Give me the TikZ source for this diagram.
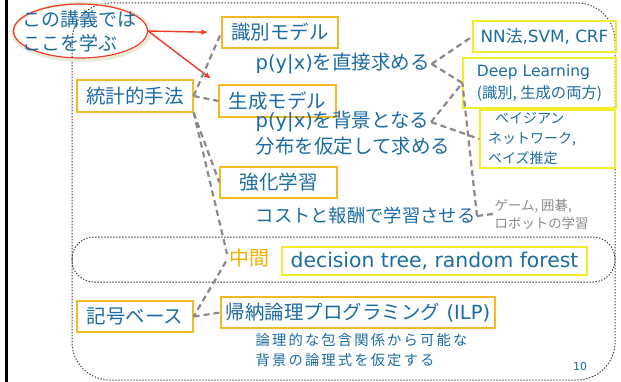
\documentclass[tikz,border=0pt]{standalone}
\usepackage{fontspec}
\setmainfont{Noto Sans CJK JP}
\newfontfamily\lat{DejaVu Sans}
\usetikzlibrary{shapes.geometric,arrows.meta}
\definecolor{tblue}{HTML}{1C6CA2}
\definecolor{obox}{HTML}{F6B921}
\definecolor{ybox}{HTML}{F2EC2A}
\definecolor{dgray}{HTML}{8A8A8A}
\definecolor{dotc}{HTML}{3C3C30}
\definecolor{redc}{HTML}{EE3B22}
\definecolor{otxt}{HTML}{F5B000}
\definecolor{glow}{HTML}{E6ECD8}
\newcommand\fsz[2]{\fontsize{#1}{#2}\selectfont}
\begin{document}
\begin{tikzpicture}[x=1pt,y=-1pt,
  obx/.style={draw=obox, line width=1.3pt, text=tblue, inner sep=0pt, font=\fsz{19.5}{24}},
  ybx/.style={draw=ybox, line width=1.3pt, text=tblue, inner sep=0pt},
  txt/.style={text=tblue, inner sep=1.5pt, anchor=west, font=\fsz{19.5}{24}},
  conn/.style={draw=dgray, line width=2.2pt, dash pattern=on 6pt off 4pt},
  dotbox/.style={draw=dotc, line width=1pt, dash pattern=on 1.3pt off 1.7pt},
  redarr/.style={draw=redc, line width=1.4pt, -{Triangle[length=6pt,width=5pt]}}]
\useasboundingbox (0,0) rectangle (621,382);
\fill[white] (0,0) rectangle (621,382);
\draw[black, line width=3pt] (6.5,0) -- (6.5,382);
\draw[dotbox, rounded corners=38pt] (72,3) rectangle (615,380);
\draw[dotbox, rounded corners=22pt] (72,237) rectangle (615,282);

% ellipse
\node[ellipse, draw=glow, line width=3pt, minimum width=137pt, minimum height=57pt, inner sep=0pt] (ellglow) at (81.5,32) {};
\node[ellipse, draw=redc, line width=1.2pt, minimum width=134pt, minimum height=54pt, inner sep=0pt] (ell) at (80.5,31) {};
\node[text=tblue, align=left, font=\fsz{19}{24}, inner sep=0pt] (elltxt) at (79,31) {この講義では\\ここを学ぶ};

% boxes
\node[obx, minimum width=116pt, minimum height=32pt] (toukei) at (135,96) {統計的手法};
\node[obx, minimum width=116pt, minimum height=31pt] (shiki) at (280,32.5) {識別モデル};
\node[obx, minimum width=117pt, minimum height=32pt] (sei) at (277.5,101) {生成モデル};
\node[obx, minimum width=117pt, minimum height=31pt] (kyo) at (278.5,182.5) {強化学習};
\node[obx, minimum width=116pt, minimum height=31pt] (kigo) at (135,316.5) {記号ベース};
\node[obx, minimum width=274pt, minimum height=31pt] (ilp) at (358,312.5) {帰納論理プログラミング{\lat\ (ILP)}};
\node[ybx, minimum width=305pt, minimum height=28pt, font=\lat\fsz{20.3}{24}] (dt) at (434.5,261) {decision tree, random forest};
\node[ybx, minimum width=143pt, minimum height=31pt, font=\fsz{16.8}{20}] (nn) at (544.5,36.5) {{\lat NN}法{\lat ,SVM, CRF}};
\node[ybx, minimum width=153pt, minimum height=50pt, align=left, font=\fsz{15.3}{22}] (dl) at (539.5,83) {{\lat\fsz{15.5}{22}Deep Learning}\\(識別, 生成の両方)};
\node[ybx, minimum width=135pt, minimum height=58pt, text width=119pt, inner xsep=8pt, align=left, font=\fsz{14}{20}] (bay) at (547.5,139) {\hspace*{7pt}ベイジアン\\ネットワーク,\\ベイズ推定};

% texts
\node[txt] (t1) at (254,64) {{\lat p(y|x)}を直接求める};
\node[txt] (t2a) at (254,122) {{\lat p(y|x)}を背景となる};
\node[txt] (t2b) at (254,146) {分布を仮定して求める};
\node[txt, font=\fsz{18.3}{24}] (t3) at (254,216) {コストと報酬で学習させる};
\node[txt, text=otxt, font=\fsz{20}{24}] (chukan) at (228,258) {中間};
\node[txt, align=left, font=\fsz{14.3}{20}\addfontfeature{LetterSpace=15}] (t4) at (254,350) {論理的な包含関係から可能な\\背景の論理式を仮定する};
\node[txt, text=dgray, align=left, font=\fsz{13.4}{18}] (game) at (493,214) {ゲーム, 囲碁,\\ロボットの学習};
\node[text=tblue, inner sep=0pt, font=\lat\fsz{11}{12}] (pg) at (580,366) {10};

% red arrows
\draw[redarr, shorten >=14pt] (ell.east) -- (shiki.west);
\draw[redarr, shorten >=10pt] (ell.east) -- (sei.north west);

% connectors
\draw[conn] (toukei.east) -- (shiki.west);
\draw[conn] (toukei.east) -- (sei.west);
\draw[conn] (toukei.south east) -- (kyo.west);
\draw[conn, shorten >=4pt] (toukei.south east) -- (chukan.west);
\draw[conn, shorten <=4pt] (chukan.west) -- (kigo.east);
\draw[conn] (kigo.east) -- (ilp.west);
\draw[conn] (t1.east) -- (nn.west);
\draw[conn] (t1.east) -- (dl.west);
\draw[conn] (t2a.east) -- (dl.west);
\draw[conn] (t2a.east) -- (bay.west);
\draw[conn] (t3.east) -- (dl.west);
\draw[conn] (t3.east) -- (game.west);
\end{tikzpicture}
\end{document}
